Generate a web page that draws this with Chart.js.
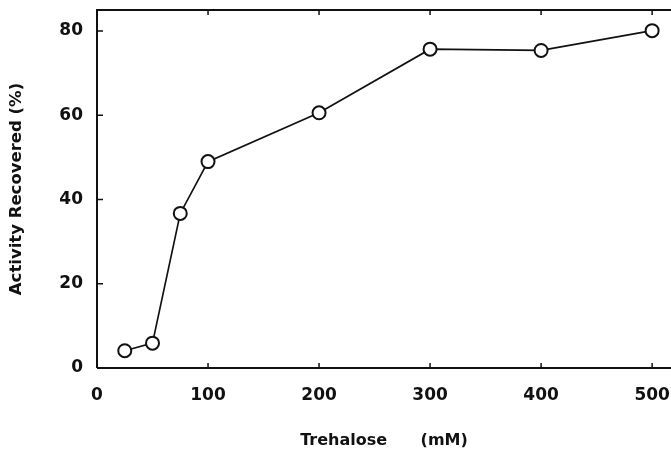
<!DOCTYPE html>
<html>
<head>
<meta charset="utf-8">
<script src="https://cdn.jsdelivr.net/npm/chart.js@4.4.1/dist/chart.umd.min.js"></script>
<style>
  html, body { margin: 0; padding: 0; background: #fff; }
  #wrap { width: 671px; height: 453px; position: relative; }
</style>
</head>
<body>
<div id="wrap"><canvas id="c" width="671" height="453"></canvas></div>
<script>
const trehalose = [25, 50, 75, 100, 200, 300, 400, 500];
const activity = [4.1, 5.9, 36.7, 49.0, 60.6, 75.7, 75.4, 80.1];
const xTicks = [0, 100, 200, 300, 400, 500];
const yTicks = [0, 20, 40, 60, 80];

const FONT = '"DejaVu Sans", Verdana, sans-serif';
const INK = '#111';

const frame = {
  id: 'frame',
  afterDatasetsDraw(chart) {
    const { ctx, chartArea: a, scales: { x, y } } = chart;
    ctx.save();
    ctx.strokeStyle = INK;
    ctx.lineWidth = 2;
    ctx.beginPath();
    ctx.moveTo(a.left, a.bottom); ctx.lineTo(a.left, a.top); ctx.lineTo(a.right, a.top);
    ctx.moveTo(a.left, a.bottom); ctx.lineTo(a.right, a.bottom);
    ctx.stroke();
    ctx.lineWidth = 1.5;
    ctx.beginPath();
    xTicks.forEach(v => {
      const px = x.getPixelForValue(v);
      ctx.moveTo(px, a.bottom); ctx.lineTo(px, a.bottom - 5);
      ctx.moveTo(px, a.top); ctx.lineTo(px, a.top + 5);
    });
    yTicks.forEach(v => {
      const py = y.getPixelForValue(v);
      ctx.moveTo(a.left, py); ctx.lineTo(a.left + 6, py);
    });
    ctx.stroke();
    ctx.restore();
  }
};

new Chart(document.getElementById('c'), {
  type: 'line',
  data: {
    datasets: [{
      data: trehalose.map((t, i) => ({ x: t, y: activity[i] })),
      borderColor: INK,
      borderWidth: 1.7,
      pointRadius: 6.5,
      pointBorderWidth: 2,
      pointBackgroundColor: '#fff',
      pointBorderColor: INK,
      tension: 0,
      clip: false
    }]
  },
  options: {
    responsive: false,
    animation: false,
    layout: { autoPadding: false, padding: { top: 10, right: 0, left: 0, bottom: 0 } },
    plugins: { legend: { display: false }, tooltip: { enabled: false } },
    scales: {
      x: {
        type: 'linear',
        min: 0,
        max: 517,
        afterBuildTicks: s => { s.ticks = xTicks.map(v => ({ value: v })); },
        afterFit: s => { s.height = 85; s.paddingLeft = 0; s.paddingRight = 0; },
        grid: { display: false, drawTicks: false },
        border: { display: false },
        ticks: { color: INK, padding: 17, font: { family: FONT, size: 17, weight: 'bold' }, maxRotation: 0 },
        title: { display: true, text: 'Trehalose      (mM)', color: INK, padding: { top: 0, bottom: 3 }, font: { family: FONT, size: 16, weight: 'bold' } }
      },
      y: {
        min: 0,
        max: 85,
        afterBuildTicks: s => { s.ticks = yTicks.map(v => ({ value: v })); },
        afterFit: s => { s.width = 97; s.paddingTop = 0; s.paddingBottom = 0; },
        grid: { display: false, drawTicks: false },
        border: { display: false },
        ticks: { color: INK, padding: 14, font: { family: FONT, size: 17, weight: 'bold' } },
        title: { display: true, text: 'Activity Recovered (%)', color: INK, padding: { top: 7, bottom: 0 }, font: { family: FONT, size: 16.5, weight: 'bold' } }
      }
    }
  },
  plugins: [frame]
});
</script>
</body>
</html>
